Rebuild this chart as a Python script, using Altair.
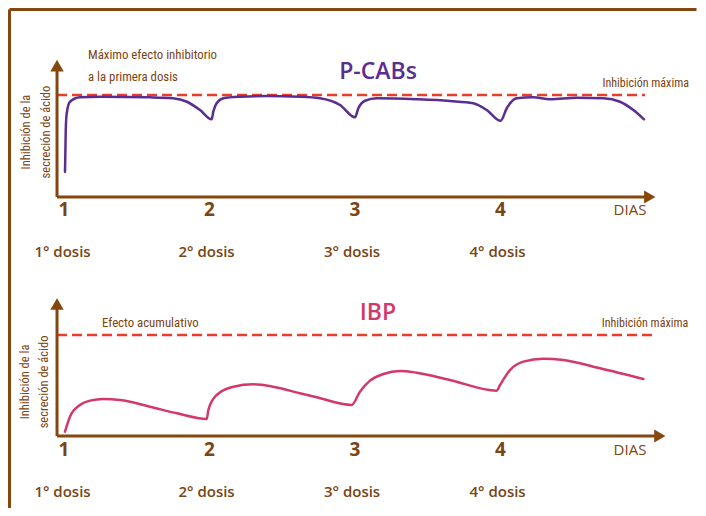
import altair as alt
import pandas as pd

# ---------------- data ----------------
# P-CABs: inhibition (% of maximum) vs day
pcab_day = [1.007, 1.012, 1.019, 1.041, 1.110, 1.247, 1.591, 1.749, 1.845, 1.935,
            2.015, 2.026, 2.049, 2.095, 2.210, 2.393, 2.622, 2.759, 2.897, 3.000,
            3.023, 3.069, 3.149, 3.424, 3.653, 3.813, 3.905, 4.001, 4.043, 4.111,
            4.225, 4.340, 4.524, 4.707, 4.821, 4.913, 4.986]
pcab_inh = [24.8, 65.7, 82.4, 93.4, 97.7, 98.3, 97.7, 96.8, 93.4, 85.3,
            76.2, 83.6, 91.9, 96.8, 98.3, 99.0, 98.3, 96.8, 90.2, 78.1,
            87.0, 94.4, 96.8, 95.8, 94.1, 91.9, 85.3, 74.8, 87.0, 96.8,
            97.7, 95.8, 97.4, 96.8, 93.4, 85.3, 76.2]

# IBP: inhibition (% of maximum) vs day
ibp_day = [1.007, 1.041, 1.110, 1.179, 1.270, 1.385, 1.591, 1.775, 1.981, 1.992,
           2.049, 2.164, 2.301, 2.439, 2.622, 2.737, 2.977, 3.034, 3.103, 3.195,
           3.309, 3.424, 3.653, 3.974, 3.997, 4.065, 4.157, 4.294, 4.432, 4.684, 4.982]
ibp_inh = [4.3, 19.1, 30.7, 35.0, 36.6, 35.6, 29.0, 22.5, 16.8, 25.7,
           40.6, 48.8, 51.2, 48.8, 42.3, 38.3, 30.7, 43.9, 54.8, 61.4,
           64.4, 62.7, 55.4, 44.9, 50.5, 65.3, 73.6, 76.5, 75.2, 67.0, 56.4]

max_inhibition = 100
day_ticks = [1, 2, 3, 4]
day_labels = ["1", "2", "3", "4"]
dose_days = [0.99, 1.98, 2.98, 3.98]
dose_labels = ["1° dosis", "2° dosis", "3° dosis", "4° dosis"]
axis_label = "DIAS"
y_title_lines = ["Inhibición de la", "secreción de ácido"]
max_label = "Inhibición máxima"

# ---------------- styling ----------------
BROWN = "#86470f"
TBROWN = "#7a4413"
RED = "#ec3b2b"
PURPLE = "#5a2d92"
PINK = "#d3386c"
FONT = "Liberation Sans Narrow, Roboto Condensed, Roboto, sans-serif"
TFONT = "Open Sans, Lato, sans-serif"

W = 690
X_DOM = [0.6151, 5.3574]


def panel(day, inh, color, title, notes, y_dom, h, y_arrow, x_arrow, ref_end,
          ytitle_pos, num_v, dose_v, top_frame=False):
    xs = alt.Scale(domain=X_DOM, nice=False, zero=False)
    ys = alt.Scale(domain=y_dom, nice=False, zero=False)
    X = lambda f="d": alt.X(f"{f}:Q", scale=xs, axis=None)
    Y = lambda f="v": alt.Y(f"{f}:Q", scale=ys, axis=None)

    layers = []
    # frame (decoration)
    one = pd.DataFrame({"a": [0]})
    layers.append(alt.Chart(one).mark_rule(color=BROWN, strokeWidth=3).encode(
        x=alt.value(1.5), y=alt.value(1.5 if top_frame else 0), y2=alt.value(h)))
    if top_frame:
        layers.append(alt.Chart(one).mark_rule(color=BROWN, strokeWidth=3).encode(
            x=alt.value(1.5), x2=alt.value(W - 1.5), y=alt.value(1.5)))

    # reference (max inhibition) line
    ref = pd.DataFrame({"d": [0.952], "d2": [ref_end], "v": [max_inhibition]})
    layers.append(alt.Chart(ref).mark_rule(color=RED, strokeWidth=2.5, strokeDash=[10, 5]).encode(
        x=X(), x2="d2:Q", y=Y()))

    # axes
    yax = pd.DataFrame({"d": [0.952], "v": [0], "v2": [y_arrow - 2]})
    layers.append(alt.Chart(yax).mark_rule(color=BROWN, strokeWidth=3).encode(
        x=X(), y=Y(), y2="v2:Q"))
    xax = pd.DataFrame({"d": [0.952], "d2": [x_arrow - 0.02], "v": [0]})
    layers.append(alt.Chart(xax).mark_rule(color=BROWN, strokeWidth=3).encode(
        x=X(), x2="d2:Q", y=Y()))
    layers.append(alt.Chart(pd.DataFrame({"d": [0.952], "v": [y_arrow]})).mark_point(
        shape="triangle-up", filled=True, size=180, color=BROWN, opacity=1).encode(x=X(), y=Y()))
    layers.append(alt.Chart(pd.DataFrame({"d": [x_arrow], "v": [0]})).mark_point(
        shape="triangle-right", filled=True, size=170, color=BROWN, opacity=1).encode(x=X(), y=Y()))

    # curve
    curve = pd.DataFrame({"d": day, "v": inh})
    layers.append(alt.Chart(curve).mark_line(color=color, strokeWidth=2.5, interpolate="monotone",
                                             strokeCap="round", strokeJoin="round").encode(
        x=X(), y=Y()))

    # day numbers
    nums = pd.DataFrame({"d": day_ticks, "v": [num_v] * 4, "t": day_labels})
    layers.append(alt.Chart(nums).mark_text(font=TFONT, fontSize=19, fontWeight="bold", color=TBROWN,
                                            baseline="middle", align="center").encode(
        x=X(), y=Y(), text="t:N"))
    layers.append(alt.Chart(pd.DataFrame({"d": [4.89], "v": [num_v], "t": [axis_label]})).mark_text(
        font=TFONT, fontSize=15, color=TBROWN, baseline="middle", align="center").encode(
        x=X(), y=Y(), text="t:N"))
    # doses
    doses = pd.DataFrame({"d": dose_days, "v": [dose_v] * 4, "t": dose_labels})
    layers.append(alt.Chart(doses).mark_text(font=TFONT, fontSize=15, fontWeight=600, color=TBROWN,
                                             baseline="middle", align="center").encode(
        x=X(), y=Y(), text="t:N"))

    # y title (two rotated lines)
    yt = pd.DataFrame({"d": [ytitle_pos[0], ytitle_pos[0] + 0.135],
                       "v": [ytitle_pos[1]] * 2, "t": y_title_lines})
    layers.append(alt.Chart(yt).mark_text(font=FONT, fontSize=12.5, color=TBROWN, angle=270,
                                          baseline="middle", align="center").encode(
        x=X(), y=Y(), text="t:N"))

    # title
    tt = pd.DataFrame({"d": [3.158], "v": [title[1]], "t": [title[0]]})
    layers.append(alt.Chart(tt).mark_text(font=TFONT, fontSize=23, fontWeight=600, color=color,
                                          baseline="middle", align="center").encode(
        x=X(), y=Y(), text="t:N"))

    # notes
    nd = pd.DataFrame(notes)
    left = nd[nd["al"] == "left"]
    right = nd[nd["al"] == "right"]
    layers.append(alt.Chart(left).mark_text(font=FONT, fontSize=12.8, color=TBROWN,
                                            baseline="middle", align="left").encode(
        x=X(), y=Y(), text="t:N"))
    layers.append(alt.Chart(right).mark_text(font=FONT, fontSize=12, color=TBROWN,
                                             baseline="middle", align="right").encode(
        x=X(), y=Y(), text="t:N"))

    return alt.layer(*layers).properties(width=W, height=h)


top = panel(pcab_day, pcab_inh, PURPLE, ("P-CABs", 122.5),
            {"d": [1.165, 1.165, 5.295], "v": [139.2, 117.9, 111.8],
             "t": ["Máximo efecto inhibitorio", "a la primera dosis", max_label],
             "al": ["left", "left", "right"]},
            [-63.7, 185.3], 254, 128.8, 5.026, 4.993, (0.74, 63.7), -12.7, -53.9,
            top_frame=True)

bottom = panel(ibp_day, ibp_inh, PINK, ("IBP", 121.8),
               {"d": [1.261, 5.29], "v": [111.9, 111.9],
                "t": ["Efecto acumulativo", max_label],
                "al": ["left", "right"]},
               [-71.3, 172.3], 246, 130.7, 5.095, 5.076, (0.73, 53.5), -13.9, -55.1)

chart = alt.vconcat(top, bottom, spacing=0, bounds="flush").properties(
    padding=0
).configure_view(stroke=None)
chart.save("out.html", embed_options={"renderer": "svg", "actions": False})
